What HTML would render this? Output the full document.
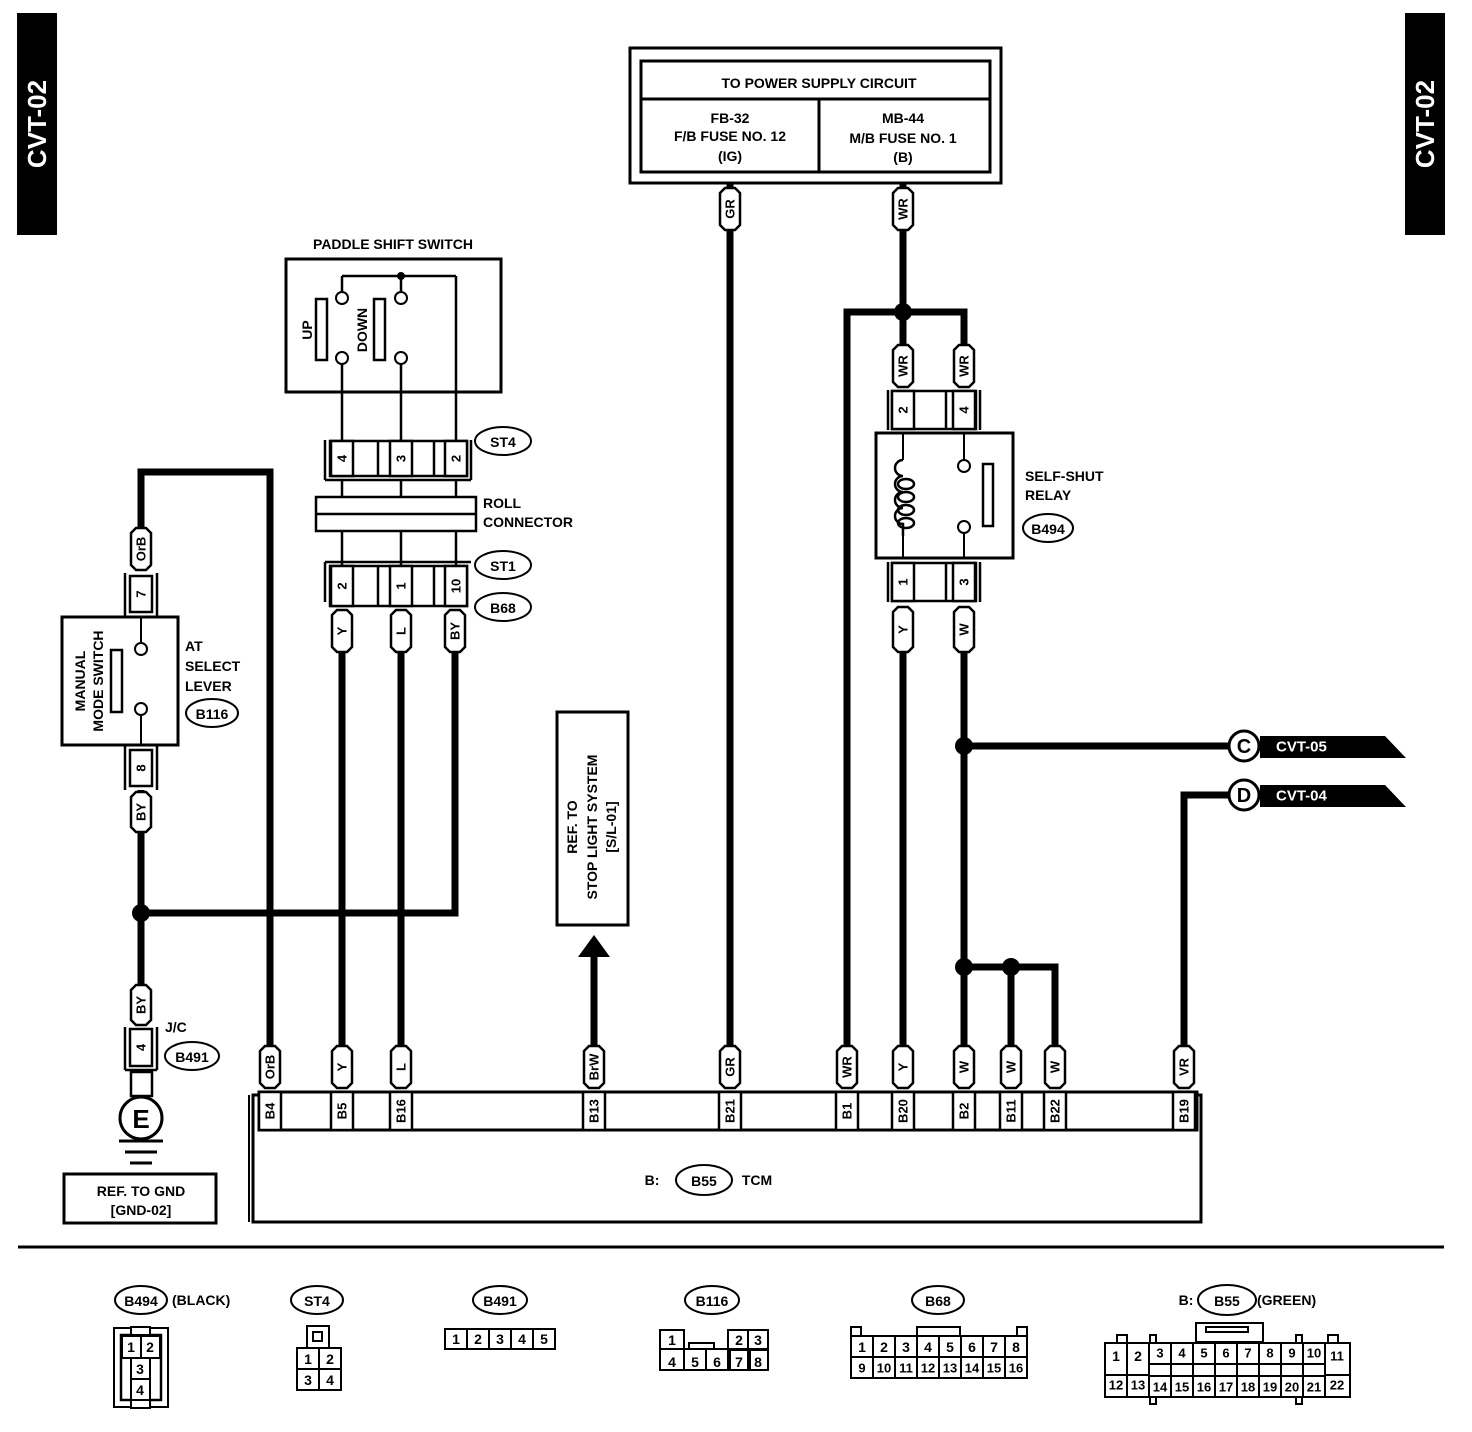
<!DOCTYPE html>
<html><head><meta charset="utf-8"><style>
html,body{margin:0;padding:0;background:#fff;width:1472px;height:1432px;overflow:hidden}
svg{display:block;font-family:"Liberation Sans",Arial,sans-serif;font-weight:bold}
</style></head><body>
<svg id="s" width="1472" height="1432" viewBox="0 0 1472 1432" xmlns="http://www.w3.org/2000/svg"></svg>
<script>
var o='';
function L(x1,y1,x2,y2,w){o+='<line x1="'+x1+'" y1="'+y1+'" x2="'+x2+'" y2="'+y2+'" stroke="#000" stroke-width="'+(w||2)+'"/>';}
function W(pts){o+='<polyline points="'+pts+'" fill="none" stroke="#000" stroke-width="7"/>';}
function R(x,y,w,h,sw,f){o+='<rect x="'+x+'" y="'+y+'" width="'+w+'" height="'+h+'" fill="'+(f||'none')+'" stroke="#000" stroke-width="'+(sw||2)+'"/>';}
function T(x,y,t,s,a,rot,fill){o+='<text x="'+x+'" y="'+y+'" font-size="'+(s||14)+'" text-anchor="'+(a||'middle')+'"'+(rot?' transform="rotate(-90 '+x+' '+y+')"':'')+(fill?' fill="'+fill+'"':'')+' dominant-baseline="central">'+t+'</text>';}
function C(x,y,r,f,sw){o+='<circle cx="'+x+'" cy="'+y+'" r="'+r+'" fill="'+(f||'#fff')+'" stroke="#000" stroke-width="'+(sw||2)+'"/>';}
function E(x,y,rx,ry,t){o+='<ellipse cx="'+x+'" cy="'+y+'" rx="'+rx+'" ry="'+ry+'" fill="#fff" stroke="#000" stroke-width="2"/>';T(x,y+1,t,14);}
function lab(x,y1,y2,t){var h=10,c=5;o+='<polygon points="'+(x-h+c)+','+y1+' '+(x+h-c)+','+y1+' '+(x+h)+','+(y1+c)+' '+(x+h)+','+(y2-c)+' '+(x+h-c)+','+y2+' '+(x-h+c)+','+y2+' '+(x-h)+','+(y2-c)+' '+(x-h)+','+(y1+c)+'" fill="#fff" stroke="#000" stroke-width="2.5"/>';T(x,(y1+y2)/2,t,13,'middle',1);}
function pin(x,y1,y2,t){R(x-11,y1,22,y2-y1,2.5,'#fff');T(x,(y1+y2)/2,t,13,'middle',1);}
function dot(x,y){o+='<circle cx="'+x+'" cy="'+y+'" r="9" fill="#000"/>';}
// side tabs
R(18,14,38,220,0,'#000');T(37,124,'CVT-02',26,'middle',1,'#fff');
R(1406,14,38,220,0,'#000');T(1425,124,'CVT-02',26,'middle',1,'#fff');
// power box
R(630,48,371,135,3);R(641,61,349,111,3);L(641,99,990,99,3);L(819,99,819,172,3);
T(819,83,'TO POWER SUPPLY CIRCUIT',14);
T(730,118,'FB-32',14);T(730,136,'F/B FUSE NO. 12',14);T(730,156,'(IG)',14);
T(903,118,'MB-44',14);T(903,138,'M/B FUSE NO. 1',14);T(903,157,'(B)',14);
// wires
W('730,183 730,1050');
W('903,183 903,312');W('847,1050 847,312 964,312 964,350');W('903,312 903,350');
W('903,650 903,1050');W('964,650 964,1050');W('964,746 1232,746');
W('964,967 1055,967 1055,1050');W('1011,967 1011,1050');
W('1184,1050 1184,795 1232,795');
W('270,1050 270,472 141,472 141,535');W('141,790 141,990');W('141,913 455,913 455,650');
W('342,650 342,1050');W('401,650 401,1050');
W('594,1050 594,950');
o+='<polygon points="578,957 610,957 594,935" fill="#000"/>';
dot(903,312);dot(964,746);dot(964,967);dot(1011,967);dot(141,913);
lab(730,188,230,'GR');lab(903,188,230,'WR');
// relay
lab(903,345,387,'WR');lab(964,345,387,'WR');
L(888,390,888,430,2.5);L(980,390,980,430,2.5);
R(892,391,84,38,2.5,'#fff');pin(903,391,429,'2');L(946,391,946,429,2.5);pin(964,391,429,'4');
R(876,433,137,125,3,'#fff');
L(903,434,903,460);L(903,531,903,557);
o+='<path d="M903,460 a8,8 0 0 0 0,16 a8,8 0 0 0 0,16 a8,8 0 0 0 0,16 a8,8 0 0 0 0,16 v12" fill="none" stroke="#000" stroke-width="2.5"/>';
for(var i=0;i<4;i++){o+='<ellipse cx="906" cy="'+(484+i*13)+'" rx="8" ry="5" fill="none" stroke="#000" stroke-width="2.5"/>';}
L(964,434,964,460);C(964,466,6);L(964,534,964,557);C(964,527,6);
R(983,464,10,62,2.5);
T(1025,476,'SELF-SHUT',14,'start');T(1025,495,'RELAY',14,'start');E(1048,528,25,14,'B494');
L(888,562,888,602,2.5);L(980,562,980,602,2.5);
R(892,563,84,38,2.5,'#fff');pin(903,563,601,'1');L(946,563,946,601,2.5);pin(964,563,601,'3');
lab(903,607,652,'Y');lab(964,607,652,'W');
// C D tags
C(1244,746,15,'#fff',3);T(1244,747,'C',20);
o+='<polygon points="1260,736 1385,736 1406,758 1260,758" fill="#000"/>';T(1276,747,'CVT-05',15,'start',0,'#fff');
C(1244,795,15,'#fff',3);T(1244,796,'D',20);
o+='<polygon points="1260,785 1385,785 1406,807 1260,807" fill="#000"/>';T(1276,796,'CVT-04',15,'start',0,'#fff');
// paddle switch
T(393,244,'PADDLE SHIFT SWITCH',14);R(286,259,215,133,3);
L(342,276,456,276,2.5);o+='<circle cx="401" cy="276" r="4" fill="#000"/>';
L(342,276,342,291,2.5);L(401,276,401,291,2.5);C(342,298,6);C(401,298,6);
C(342,358,6);C(401,358,6);
R(316,299,11,61,2.5);R(374,299,11,61,2.5);
T(307,330,'UP',14,'middle',1);T(362,330,'DOWN',14,'middle',1);
L(342,364,342,440,2.5);L(401,364,401,440,2.5);L(456,276,456,440,2.5);
L(325,440,325,480,2.5);L(471,440,471,480,2.5);L(325,480,471,480,2.5);
R(330,441,137,35,2.5,'#fff');pin(342,441,476,'4');L(378,441,378,476,2.5);pin(401,441,476,'3');L(434,441,434,476,2.5);pin(456,441,476,'2');
E(503,441,28,14,'ST4');
L(342,480,342,497,2.5);L(401,480,401,497,2.5);L(456,480,456,497,2.5);
R(316,497,160,34,2.5,'#fff');L(316,514,476,514,2.5);
T(483,503,'ROLL',14,'start');T(483,522,'CONNECTOR',14,'start');
L(342,531,342,565,2.5);L(401,531,401,565,2.5);L(456,531,456,565,2.5);
L(325,562,471,562,2.5);L(325,562,325,602,2.5);
R(330,566,137,40,2.5,'#fff');pin(342,566,606,'2');L(378,566,378,606,2.5);pin(401,566,606,'1');L(434,566,434,606,2.5);pin(456,566,606,'10');
E(503,565,28,14,'ST1');E(503,607,28,14,'B68');
lab(342,610,652,'Y');lab(401,610,652,'L');lab(455,610,652,'BY');
// manual mode switch
lab(141,528,570,'OrB');
L(125,573,125,617,2.5);L(157,573,157,617,2.5);pin(141,576,612,'7');
R(62,617,116,128,3,'#fff');
T(80,681,'MANUAL',14,'middle',1);T(98,681,'MODE SWITCH',14,'middle',1);
R(111,650,11,62,2.5);
L(141,618,141,642);C(141,649,6);C(141,709,6);L(141,716,141,744);
L(125,745,125,790,2.5);L(157,745,157,790,2.5);pin(141,750,786,'8');
lab(141,792,832,'BY');
T(185,646,'AT',14,'start');T(185,666,'SELECT',14,'start');T(185,686,'LEVER',14,'start');E(212,713,26,14,'B116');
// ground
lab(141,985,1025,'BY');
L(125,1027,125,1070,2.5);L(157,1027,157,1070,2.5);L(125,1070,157,1070,2.5);
pin(141,1029,1066,'4');R(131,1072,21,24,2.5,'#fff');
C(141,1118,21,'#fff',3);T(141,1119,'E',26);
L(119,1141,163,1141,3);L(125,1152,157,1152,3);L(130,1163,152,1163,3);
T(165,1027,'J/C',14,'start');E(192,1056,27,14,'B491');
R(64,1174,152,49,3);T(141,1191,'REF. TO GND',14);T(141,1210,'[GND-02]',14);
// stop light ref
R(557,712,71,213,3);
T(572,827,'REF. TO',14,'middle',1);T(592,827,'STOP LIGHT SYSTEM',14,'middle',1);T(611,827,'[S/L-01]',14,'middle',1);
// TCM
R(253,1095,948,127,3);R(259,1092,938,38,3,'#fff');
var pins=[[270,'B4','OrB'],[342,'B5','Y'],[401,'B16','L'],[594,'B13','BrW'],[730,'B21','GR'],[847,'B1','WR'],[903,'B20','Y'],[964,'B2','W'],[1011,'B11','W'],[1055,'B22','W'],[1184,'B19','VR']];
pins.forEach(function(p){pin(p[0],1092,1130,p[1]);lab(p[0],1046,1088,p[2]);});
L(249,1095,249,1222,0);
T(652,1180,'B:',14);E(704,1180,28,15,'B55');T(757,1180,'TCM',14);
// separator
L(18,1247,1444,1247,3);
// bottom connectors
E(141,1300,26,14,'B494');T(172,1300,'(BLACK)',14,'start');
// B494
R(114,1328,54,79,2);R(121,1335,40,65,2.5);
R(122,1336,19,22,2,'#fff');R(141,1336,19,22,2,'#fff');T(131,1347,'1',14);T(150,1347,'2',14);
R(131,1358,19,21,2,'#fff');T(140,1369,'3',14);R(131,1379,19,21,2,'#fff');T(140,1390,'4',14);
R(131,1327,19,8,2,'#fff');R(131,1400,19,8,2,'#fff');
// ST4
E(317,1300,26,14,'ST4');R(307,1326,22,22,2);R(313,1332,9,9,2);
R(297,1348,22,21,2);R(319,1348,22,21,2);R(297,1369,22,21,2);R(319,1369,22,21,2);
T(308,1359,'1',14);T(330,1359,'2',14);T(308,1380,'3',14);T(330,1380,'4',14);
// B491
E(500,1300,27,14,'B491');
for(i=0;i<5;i++){R(445+i*22,1329,22,20,2);T(456+i*22,1339,String(i+1),14);}
// B116
E(712,1300,27,14,'B116');
R(660,1330,24,40,2);T(672,1340,'1',14);R(684,1349,22,21,2);R(706,1349,22,21,2);R(728,1330,20,20,2);R(748,1330,20,20,2);
R(730,1349,20,21,2);R(748,1349,20,21,2);R(660,1349,24,21,2);
T(672,1362,'4',14);T(695,1362,'5',14);T(717,1362,'6',14);T(739,1362,'7',14);T(758,1362,'8',14);T(739,1340,'2',14);T(758,1340,'3',14);
R(689,1343,25,6,2);
// B68
E(938,1300,26,14,'B68');
R(851,1327,10,9,2);R(917,1327,43,9,2);R(1017,1327,10,9,2);
for(i=0;i<8;i++){R(851+i*22,1336,22,21,2);T(862+i*22,1347,String(i+1),14);R(851+i*22,1357,22,21,2);T(862+i*22,1368,String(i+9),13);}
// B55
T(1186,1300,'B:',14);E(1227,1300,29,15,'B55');T(1257,1300,'(GREEN)',14,'start');
R(1196,1323,67,19,2);R(1206,1327,42,5,2);
var bx=[1105,1127,1150,1172,1195,1217,1239,1261,1284,1306,1329,1352];
R(1105,1343,22,32,2);R(1127,1343,22,32,2);R(1105,1375,22,22,2);R(1127,1375,22,22,2);
T(1116,1356,'1',14);T(1138,1356,'2',14);T(1116,1385,'12',13);T(1138,1385,'13',13);
for(i=0;i<8;i++){var x=1149+i*22;R(x,1343,22,21,2);T(x+11,1353,String(i+3),13);R(x,1364,22,12,2);R(x,1376,22,21,2);T(x+11,1387,String(i+14),13);}
R(1325,1343,25,32,2);R(1325,1375,25,22,2);T(1337,1356,'11',13);T(1337,1385,'22',13);
R(1117,1335,10,8,2);R(1150,1335,6,8,2);R(1296,1335,6,8,2);R(1328,1335,10,8,2);R(1150,1397,6,7,2);R(1296,1397,6,7,2);
document.getElementById('s').innerHTML=o;
</script>
</body></html>
